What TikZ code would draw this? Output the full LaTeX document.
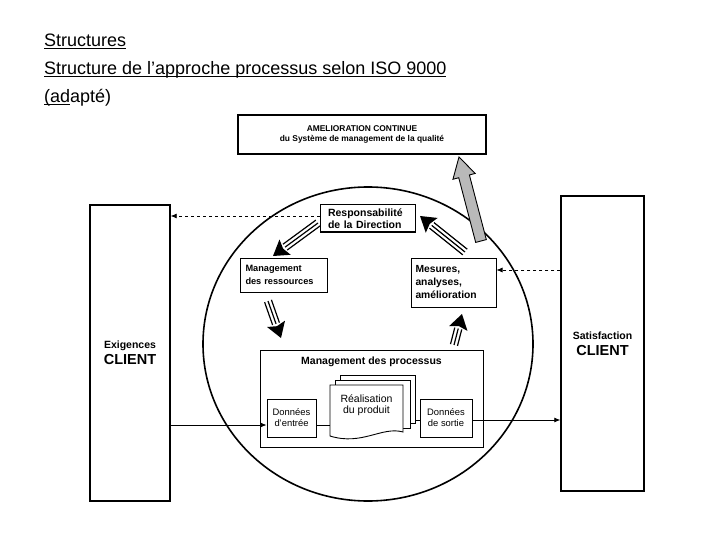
\documentclass[tikz,border=0pt]{standalone}
\usepackage{fontspec}
\setmainfont{Liberation Sans}
\usetikzlibrary{arrows.meta,calc,shapes.geometric}
\newcommand{\ulx}[1]{\setbox0\hbox{#1}\rlap{\rule[-2.2pt]{\wd0}{1.1pt}}\box0}
\newcommand{\stripedarrow}[2]{%
  \coordinate (hb) at ($(#2)!15pt!(#1)$);
  \fill[black] (#2) -- ($(hb)!9.5pt!90:(#2)$) -- ($(hb)!2.5pt!(#2)$) -- ($(hb)!9.5pt!-90:(#2)$) -- cycle;
  \foreach \o in {-3.6,0,3.6}{\draw[line width=1.2pt] ($(#1)!\o pt!90:(#2)$) -- ($(hb)!\o pt!90:(#2)$);}
}
\begin{document}
\begin{tikzpicture}[x=1pt,y=-1pt,
  box/.style={draw,line width=1pt,fill=white,inner sep=2pt},
  clientbox/.style={draw,line width=1.4pt,fill=white,align=center,font=\bfseries\fontsize{14.5}{16}\selectfont},
  dasharrow/.style={dashed,line width=0.7pt,-{Latex[length=6pt,width=5pt]}},
  flowarrow/.style={line width=0.8pt,-{Latex[length=6pt,width=5pt]}},
  flowline/.style={line width=0.8pt}
]
\useasboundingbox[fill=white] (0,0) rectangle (720,540);

% title
\node[anchor=base west,inner sep=0,font=\fontsize{18}{20}\selectfont] (t1) at (44,47) {\ulx{Structures}};
\node[anchor=base west,inner sep=0,font=\fontsize{18}{20}\selectfont] (t2) at (44,75) {\ulx{Structure de l’approche processus selon ISO 9000}};
\node[anchor=base west,inner sep=0,font=\fontsize{18}{20}\selectfont] (t3) at (44,103) {\ulx{(ad}apté)};

% client boxes
\node[clientbox,minimum width=80pt,minimum height=296pt] (exig) at (130,353)
  {{\fontsize{10.5}{12}\selectfont Exigences}\\CLIENT};
\node[clientbox,minimum width=83pt,minimum height=295pt] (satis) at (602.5,343.5)
  {{\fontsize{10.5}{12}\selectfont Satisfaction}\\CLIENT};

% circle
\node[draw,ellipse,line width=1.6pt,minimum width=330pt,minimum height=314pt] (circ) at (368,344) {};

% top box
\node[draw,line width=1.4pt,fill=white,minimum width=248pt,minimum height=39pt,align=center,
      font=\fontsize{8.4}{10.5}\selectfont\bfseries] (amel) at (362,134.5)
  {AMELIORATION CONTINUE\\du Système de management de la qualité};

% grey arrow
\coordinate (gt) at (481,241);
\coordinate (gp) at (459,157);
\coordinate (gh) at ($(gp)!20pt!(gt)$);
\filldraw[fill=gray!55,draw=black,line width=0.9pt]
  ($(gt)!5.5pt!90:(gp)$) -- ($(gh)!5.5pt!90:(gp)$) -- ($(gh)!11.5pt!90:(gp)$) -- (gp)
  -- ($(gh)!11.5pt!-90:(gp)$) -- ($(gh)!5.5pt!-90:(gp)$) -- ($(gt)!5.5pt!-90:(gp)$) -- cycle;

% inner boxes
\node[box,font=\fontsize{10.5}{12}\selectfont\bfseries,minimum width=95pt,minimum height=27pt,text width=79pt,align=left] (resp) at (367.5,218.5)
  {Responsabilité\\de la Direction};
\node[box,font=\fontsize{9.2}{13}\selectfont\bfseries,minimum width=87pt,minimum height=34pt,text width=76pt,align=left] (ress) at (283.5,275)
  {Management\\des ressources};
\node[box,font=\fontsize{10.3}{13}\selectfont\bfseries,minimum width=85pt,minimum height=49pt,text width=76pt,align=left] (mes) at (453.5,282.5)
  {Mesures,\\analyses,\\amélioration};

% process box
\node[draw,line width=1pt,fill=white,minimum width=223pt,minimum height=97pt] (proc) at (371.5,398.5) {};
\node[font=\fontsize{10.5}{12}\selectfont\bfseries,inner sep=0] (proct) at (371.5,362) {Management des processus};

\node[box,font=\fontsize{9.4}{11}\selectfont,minimum width=49pt,minimum height=38pt,align=center] (entree) at (291.5,418) {Données\\d’entrée};
\node[box,font=\fontsize{9.4}{11}\selectfont,minimum width=52pt,minimum height=38pt,align=center] (sortie) at (446,418) {Données\\de sortie};

% document stack
\draw[line width=0.9pt,fill=white] (340,375) rectangle (415,423);
\draw[line width=0.9pt,fill=white] (335,380) rectangle (410,428);
\draw[line width=0.9pt,fill=white] (330,385) -- (403,385) -- (403,432)
  .. controls (382,426) and (362,446) .. (330,436) -- cycle;
\node[font=\fontsize{10.5}{11.5}\selectfont,align=center,inner sep=0] (real) at (366.5,405) {Réalisation\\du produit};
\coordinate (docL) at (330,425);
\coordinate (docR) at (415,420);

% flow line
\draw[flowarrow] (exig.east |- 0,425) -- (entree.west |- 0,425);
\draw[flowline] (entree.east |- docL) -- (docL);
\draw[flowline] (docR) -- (sortie.west |- docR);
\draw[flowarrow] (sortie.east |- 0,420) -- (satis.west |- 0,420);

% dashed arrows
\draw[dasharrow] (resp.west |- 0,216) -- (exig.east |- 0,216);
\draw[dasharrow] (satis.west |- 0,270) -- (mes.east |- 0,270);

% striped block arrows
\coordinate (a1t) at (318,223); \coordinate (a1p) at (273,256);
\coordinate (a2t) at (268,301); \coordinate (a2p) at (281,338);
\coordinate (a3t) at (454,345); \coordinate (a3p) at (462,314);
\coordinate (a4t) at (465,252); \coordinate (a4p) at (420,216);
\stripedarrow{a1t}{a1p}
\stripedarrow{a2t}{a2p}
\stripedarrow{a3t}{a3p}
\stripedarrow{a4t}{a4p}
\end{tikzpicture}
\end{document}
